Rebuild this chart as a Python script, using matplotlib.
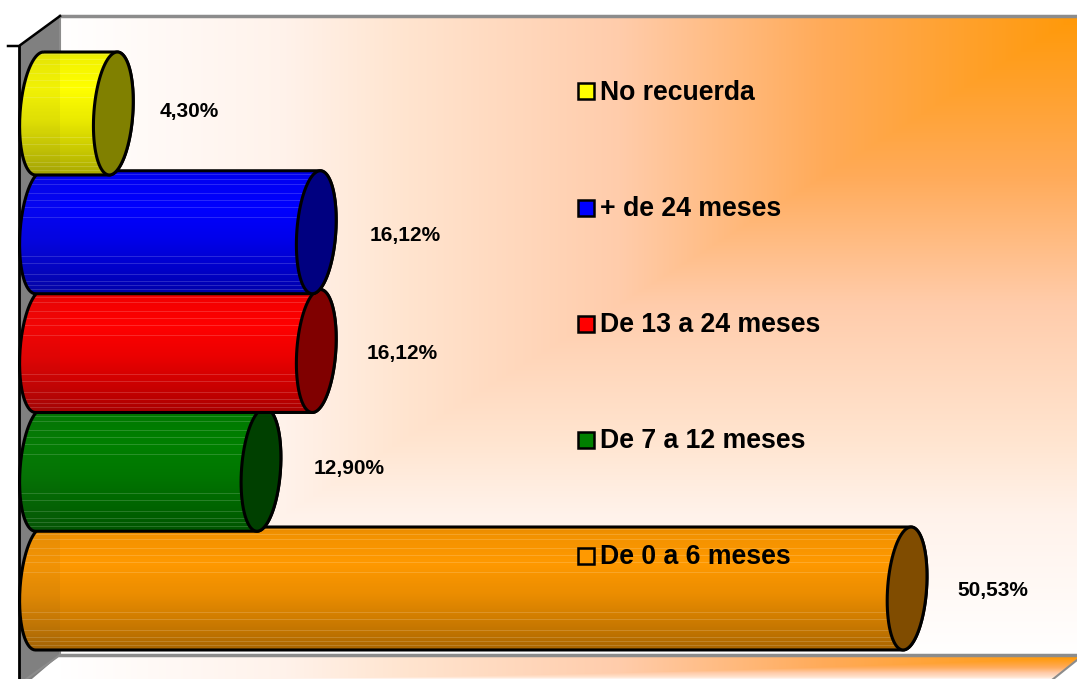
import matplotlib
matplotlib.use('Agg')
import matplotlib.pyplot as plt
import numpy as np
from matplotlib.patches import PathPatch, Polygon, Rectangle
from matplotlib.path import Path

categorias = ['De 0 a 6 meses', 'De 7 a 12 meses', 'De 13 a 24 meses', '+ de 24 meses', 'No recuerda']
valores = [50.53, 12.90, 16.12, 16.12, 4.30]
etiquetas = ['50,53%', '12,90%', '16,12%', '16,12%', '4,30%']
colores = ['#ff9900', '#008000', '#ff0000', '#0000ff', '#ffff00']
caras = ['#804c00', '#004000', '#800000', '#000080', '#808000']
legend_y = [556, 440, 324, 208, 91]
label_dx = [86, 88, 86, 89, 76]
label_dy = [-2, 1, -2, -3, 2]

W, H = 1077, 679
plt.rcParams['font.family'] = ['Liberation Sans', 'DejaVu Sans']

fig = plt.figure(figsize=(W / 100, H / 100), dpi=100)


def degradado(q):
    # blanco -> melocoton -> naranja
    g = np.interp(q, [0, .22, .33, .55, .75, 1], [1, .95, .90, .80, .67, .60])
    b = np.interp(q, [0, .22, .33, .55, .75, 1], [1, .92, .82, .67, .35, .03])
    return np.dstack([np.ones_like(q), g, b])


# fondo en pixeles
bg = fig.add_axes([0, 0, 1, 1])
bg.set_xlim(0, W)
bg.set_ylim(H, 0)
bg.axis('off')

yy, xx = np.mgrid[0:H, 0:W]
tx = np.clip((xx - 60) / (W - 60), 0, 1)
ty = np.clip(1 - (yy - 16) / 639, 0, 1)
im = bg.imshow(degradado(np.minimum(tx, ty)), extent=(0, W, H, 0), aspect='auto', zorder=1)
im.set_clip_path(Rectangle((60, 16), W - 60, 639, transform=bg.transData))

# piso
fade = np.sqrt(np.clip((679 - yy) / 22, 0, 1))
im2 = bg.imshow(degradado(np.minimum(tx, fade)), extent=(0, W, H, 0), aspect='auto', zorder=1)
im2.set_clip_path(Polygon([(60, 656), (W, 656), (W, 660), (1054, H), (25, H)], transform=bg.transData))
bg.set_xlim(0, W)
bg.set_ylim(H, 0)

bg.add_patch(Polygon([(19, 46), (60, 16), (60, 655), (19, 690)], fc='#808080', ec='none', zorder=2))
bg.plot([60, W], [16, 16], color='#8c8c8c', lw=2.5, zorder=3)
bg.plot([60, W], [655, 655], color='#8c8c8c', lw=2.5, zorder=3)
bg.plot([60, 60], [16, 655], color='#8c8c8c', lw=1.5, zorder=3)
bg.plot([60, 25], [655, 680], color='#8c8c8c', lw=1.5, zorder=3)
bg.plot([W, 1052], [660, 680], color='#8c8c8c', lw=1.5, zorder=3)
bg.plot([8, 19, 60], [46, 46, 16], color='k', lw=1.8, zorder=3)
bg.plot([19, 19], [46, H], color='k', lw=2.0, zorder=3)

# barras: 0 en x=39 px, 17.17 px por unidad, una categoria = 118.75 px
ax = fig.add_axes([0, 0, 1, 1], facecolor='none')
px_x = 17.17
px_y = 118.75
xlim = (-39.5 / px_x, (W - 39.5) / px_x)
ylim = (-(H - 588.5) / px_y, 588.5 / px_y)
a = 19.5 / px_x
s = 4 / px_x
b = 61.5 / px_y

filas = np.linspace(0, 1, 123)
curva = np.interp(filas, [0, 0.06, 0.3, 0.55, 0.85, 1], [0.90, 0.95, 1.0, 0.92, 0.76, 0.66])
brillos = [3, 8, 13, 22, 29, 36, 46, 85, 92, 103, 110, 114, 118]


def elipse(cx, cy, t0=0, t1=2 * np.pi, n=80):
    tt = np.linspace(t0, t1, n)
    return np.column_stack([cx + a * np.cos(tt) + s * np.sin(tt), cy + b * np.sin(tt)])


for i, (v, c, cara) in enumerate(zip(valores, colores, caras)):
    z = 10 + i * 3
    rgb = np.array(matplotlib.colors.to_rgb(c))
    tira = curva[:, None] * rgb
    tira[brillos] = tira[brillos] * 0.84 + 0.16
    tira = tira[:, None, :]
    # lado izquierdo del cilindro + cuerpo
    izq = elipse(0, i, np.pi / 2, 3 * np.pi / 2)
    der = elipse(v, i, 3 * np.pi / 2, np.pi / 2 + 2 * np.pi)
    pts = np.vstack([izq, der, izq[:1]])
    cuerpo = Path(pts)
    ax.add_patch(PathPatch(cuerpo, fc='none', ec='k', lw=2.2, zorder=z + 1))
    g = ax.imshow(tira, extent=(-2, v + 2, i - b, i + b), aspect='auto', zorder=z,
                  interpolation='nearest')
    g.set_clip_path(PathPatch(cuerpo, transform=ax.transData))
    # la parte delante de la pared se ve algo mas oscura
    sombra = Rectangle((-3, i - b), 3 + 20.5 / px_x, 2 * b, fc='#505050', alpha=0.07, ec='none', zorder=z)
    ax.add_patch(sombra)
    sombra.set_clip_path(PathPatch(cuerpo, transform=ax.transData))
    ax.add_patch(Polygon(elipse(v, i), closed=True, fc=cara, ec='k', lw=2.2, zorder=z + 2))
    ax.annotate(etiquetas[i], xy=(v, i), xytext=(label_dx[i], label_dy[i]), textcoords='offset pixels',
                ha='center', va='center', fontsize=15, fontweight='bold', color='k', zorder=40)

ax.set_xlim(xlim)
ax.set_ylim(ylim)
ax.axis('off')

# leyenda
top = fig.add_axes([0, 0, 1, 1], facecolor='none')
top.set_xlim(0, W)
top.set_ylim(H, 0)
top.axis('off')
for nombre, c, y in zip(categorias, colores, legend_y):
    top.add_patch(Rectangle((577.5, y - 8.5), 16, 16, fc=c, ec='k', lw=1.8))
    top.text(600, y + 1.5, nombre, ha='left', va='center', fontsize=19.2, fontweight='bold', color='k')

fig.savefig('out.png', dpi=100)
